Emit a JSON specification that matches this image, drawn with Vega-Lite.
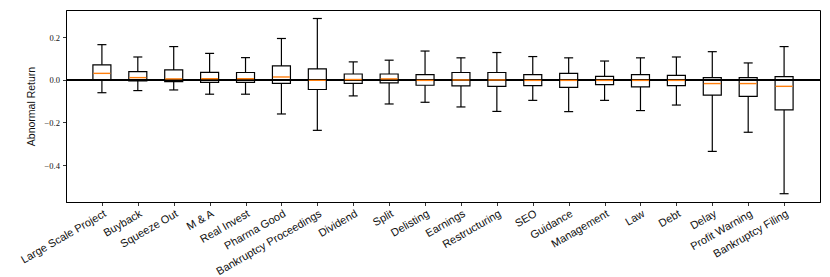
{
  "$schema": "https://vega.github.io/schema/vega-lite/v6.json",
  "width": 754,
  "height": 192,
  "autosize": "none",
  "padding": {"left": 66, "top": 10, "right": 10, "bottom": 75},
  "background": "white",
  "config": {
    "view": {"stroke": "black", "strokeWidth": 1},
    "axis": {"domainColor": "black", "tickColor": "black", "grid": false, "tickSize": 3.5, "tickWidth": 0.8},
    "mark": {"opacity": 1}
  },
  "data": {
    "values": [
      {"cat": "Large Scale Project", "lo": -0.060, "q1": -0.001, "med": 0.031, "q3": 0.071, "hi": 0.166},
      {"cat": "Buyback", "lo": -0.050, "q1": -0.005, "med": 0.011, "q3": 0.039, "hi": 0.108},
      {"cat": "Squeeze Out", "lo": -0.047, "q1": -0.008, "med": 0.005, "q3": 0.047, "hi": 0.157},
      {"cat": "M & A", "lo": -0.067, "q1": -0.011, "med": 0.006, "q3": 0.036, "hi": 0.125},
      {"cat": "Real Invest", "lo": -0.067, "q1": -0.011, "med": 0.006, "q3": 0.035, "hi": 0.105},
      {"cat": "Pharma Good", "lo": -0.160, "q1": -0.016, "med": 0.014, "q3": 0.066, "hi": 0.195},
      {"cat": "Bankruptcy Proceedings", "lo": -0.237, "q1": -0.045, "med": -0.002, "q3": 0.052, "hi": 0.289},
      {"cat": "Dividend", "lo": -0.075, "q1": -0.016, "med": 0.002, "q3": 0.028, "hi": 0.085},
      {"cat": "Split", "lo": -0.113, "q1": -0.014, "med": 0.005, "q3": 0.028, "hi": 0.093},
      {"cat": "Delisting", "lo": -0.105, "q1": -0.025, "med": -0.002, "q3": 0.025, "hi": 0.136},
      {"cat": "Earnings", "lo": -0.127, "q1": -0.028, "med": 0.000, "q3": 0.035, "hi": 0.104},
      {"cat": "Restructuring", "lo": -0.148, "q1": -0.030, "med": 0.000, "q3": 0.035, "hi": 0.129},
      {"cat": "SEO", "lo": -0.096, "q1": -0.027, "med": -0.002, "q3": 0.025, "hi": 0.110},
      {"cat": "Guidance", "lo": -0.149, "q1": -0.035, "med": -0.002, "q3": 0.031, "hi": 0.104},
      {"cat": "Management", "lo": -0.096, "q1": -0.022, "med": -0.002, "q3": 0.017, "hi": 0.089},
      {"cat": "Law", "lo": -0.144, "q1": -0.033, "med": -0.002, "q3": 0.025, "hi": 0.104},
      {"cat": "Debt", "lo": -0.118, "q1": -0.027, "med": -0.002, "q3": 0.022, "hi": 0.108},
      {"cat": "Delay", "lo": -0.336, "q1": -0.071, "med": -0.017, "q3": 0.011, "hi": 0.133},
      {"cat": "Profit Warning", "lo": -0.246, "q1": -0.077, "med": -0.017, "q3": 0.011, "hi": 0.080},
      {"cat": "Bankruptcy Filing", "lo": -0.535, "q1": -0.141, "med": -0.030, "q3": 0.016, "hi": 0.157}
    ]
  },
  "encoding": {
    "x": {
      "field": "cat", "type": "nominal", "sort": null,
      "scale": {"type": "point", "padding": 1},
      "axis": {"title": null, "labelAngle": -30, "labelAlign": "right", "labelBaseline": "top",
               "labelFont": "Liberation Sans", "labelFontSize": 11, "labelColor": "#111", "labelPadding": 2}
    }
  },
  "layer": [
    {
      "mark": {"type": "rule", "color": "black", "strokeWidth": 1, "opacity": 1},
      "encoding": {
        "x": null,
        "y": {"datum": 0, "type": "quantitative",
              "scale": {"domain": [-0.574, 0.329], "nice": false, "zero": false},
              "axis": {"values": [-0.4, -0.2, 0, 0.2], "labelExpr": "replace(format(datum.value, '.1f'), '-', '\u2212')", "title": "Abnormal Return",
                       "labelFont": "Liberation Serif", "labelFontSize": 8.5, "labelColor": "#111", "labelPadding": 3,
                       "titleFont": "Liberation Sans", "titleFontSize": 10.5, "titleFontWeight": "normal", "titleColor": "#111",
                       "titleX": -35, "titleY": 96, "titleAngle": -90, "titleAlign": "center", "titleBaseline": "middle"}}
      }
    },
    {
      "mark": {"type": "rule", "color": "black", "strokeWidth": 1.2, "opacity": 1},
      "encoding": {"y": {"field": "lo", "type": "quantitative"}, "y2": {"field": "q1"}}
    },
    {
      "mark": {"type": "rule", "color": "black", "strokeWidth": 1.2, "opacity": 1},
      "encoding": {"y": {"field": "q3", "type": "quantitative"}, "y2": {"field": "hi"}}
    },
    {
      "mark": {"type": "tick", "color": "black", "size": 9, "thickness": 1.2, "orient": "horizontal", "opacity": 1},
      "encoding": {"y": {"field": "lo", "type": "quantitative"}}
    },
    {
      "mark": {"type": "tick", "color": "black", "size": 9, "thickness": 1.2, "orient": "horizontal", "opacity": 1},
      "encoding": {"y": {"field": "hi", "type": "quantitative"}}
    },
    {
      "mark": {"type": "bar", "size": 18, "fill": "transparent", "stroke": "black", "strokeWidth": 1.2, "opacity": 1, "strokeOpacity": 1},
      "encoding": {"y": {"field": "q1", "type": "quantitative"}, "y2": {"field": "q3"}}
    },
    {
      "mark": {"type": "tick", "color": "#ff7f0e", "size": 17, "thickness": 1.4, "orient": "horizontal", "opacity": 1},
      "encoding": {"y": {"field": "med", "type": "quantitative"}}
    }
  ]
}
